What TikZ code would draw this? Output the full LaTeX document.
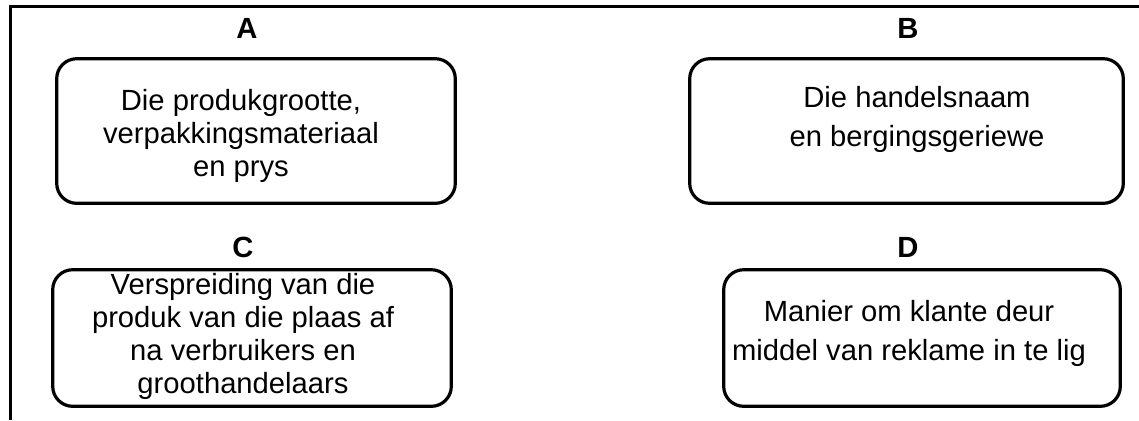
\documentclass[tikz,border=0pt]{standalone}
\usepackage{fontspec}
\setmainfont{Liberation Sans}
\tikzset{
  frame line/.style={
    line width=1.75pt,
  },
  choice box/.style={
    draw,
    rectangle,
    line width=1.6pt,
    rounded corners=10pt,
    inner sep=0pt
  },
  choice text/.style={
    align=center,
    inner sep=0pt,
    font=\fontsize{14.6}{16.5}\selectfont
  },
  choice text wide/.style={
    choice text,
    font=\fontsize{14.6}{19.5}\selectfont
  },
  choice letter/.style={
    anchor=base,
    inner sep=0pt,
    font=\fontsize{14.6}{16.5}\selectfont\bfseries
  },
}

\begin{document}
\begin{tikzpicture}[x=0.5pt,y=-0.5pt]
  \useasboundingbox (0,0) rectangle (1139,420);
  \draw[frame line] (1139,6.5) -- (10.5,6.5) -- (10.5,420);
  % the four boxes
  \node[choice box, minimum width=199.3pt, minimum height=72.3pt] (boxA) at (256,131) {};
  \node[choice box, minimum width=216.8pt, minimum height=72.3pt] (boxB) at (906.5,131) {};
  \node[choice box, minimum width=199.3pt, minimum height=68.3pt] (boxC) at (252,338) {};
  \node[choice box, minimum width=198.3pt, minimum height=68.3pt] (boxD) at (922,338) {};
  \node[choice letter] (labelA) at (247,38) {A};
  \node[choice letter] (labelB) at (908,38) {B};
  \node[choice letter] (labelC) at (243,257) {C};
  \node[choice letter] (labelD) at (908,257) {D};
  \node[choice text] (textA) at (241,136)
    {Die produkgrootte,\\verpakkingsmateriaal\\en prys};
  \node[choice text wide] (textB) at (917,119)
    {Die handelsnaam\\en bergingsgeriewe};
  \node[choice text] (textC) at (243,336)
    {Verspreiding van die\\produk van die plaas af\\na verbruikers en\\groothandelaars};
  \node[choice text wide] (textD) at (909,333)
    {Manier om klante deur\\middel van reklame in te lig};
\end{tikzpicture}
\end{document}
